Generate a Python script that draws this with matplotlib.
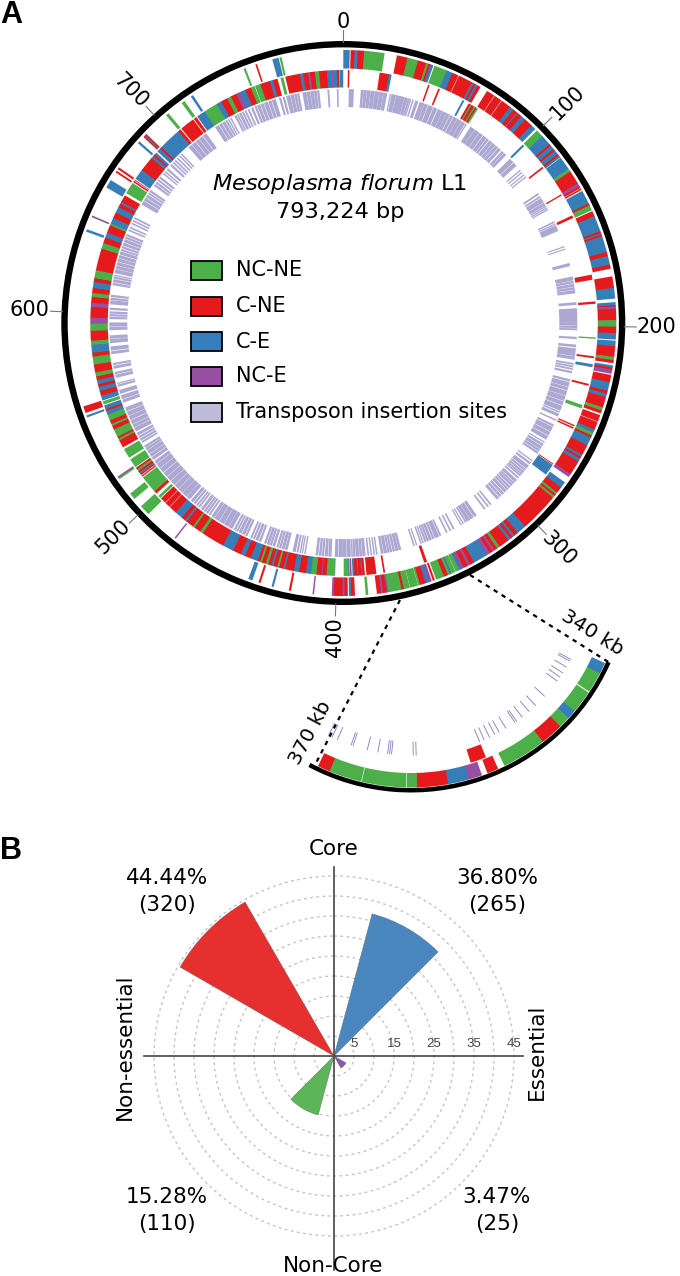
import numpy as np
import matplotlib
matplotlib.use("Agg")
import matplotlib.pyplot as plt
from matplotlib.patches import Rectangle

G, R, B, P = "#4DAF4A", "#E41A1C", "#377EB8", "#984EA3"
LAV = "#ADA8D2"
GENOME_KB = 793.224

# outer gene track (kb start, kb end, class)
TRACK1 = [
 (0,3,B),(3.4,5.3,R),(5.3,6.7,B),(6.7,9.7,R),(9.7,19.2,G),
 (25,30,R),(30,35,G),(35,39,R),(39,40,G),(40,41,R),(41,42.5,B),(43,49,G),(49,52,B),
 (52,55,R),(55.2,62,R),(62,63,B),(63,64,R),(64,65,B),(65,66.5,R),
 (70,74,R),(74.2,78,R),(78.2,83,R),(83,85,B),(85,87,R),(87,87.5,B),(87.5,89.8,R),(89.8,92,B),(92,96,R),(96,98.5,B),
 (99.5,103,G),(103,108,B),(108,109,R),(109,111,B),(111,112,R),(112,114,B),(114,115,R),(115,116,B),(116.2,122.5,B),(122.5,124,G),
 (124,130.5,R),(130.5,132,P),(132,133,R),(133.2,134,R),(134.5,141,B),(141,142,R),(142,144.5,G),(145,147.5,R),
 (147.5,155,B),(155,156,R),(156,156.6,B),(156.6,157.5,R),(157.5,165,B),(165,167,R),(167,171,B),(171,173,R),
 (176.6,182,R),(182,187,B),(188.6,190,B),(190,190.6,R),(190.6,191.7,P),(191.7,197,R),
 (197,200,G),(200,203,R),(203,206,B),(206.5,209,B),(209,214,R),(214,215.5,G),(215.5,217,R),
 (218,219,B),(219,220,R),(220,222,P),(222.5,226,R),(226,230,B),(230,231.5,R),(231.5,233,B),(233,238,R),(238,239.5,G),(239.5,241,R),
 (241.8,245,R),(245.2,249,R),(249,250.5,B),(250.5,252,G),(252,253,R),(253,257,B),(257,262,R),(262,263,B),(263,264,R),
 (264,265.5,B),(265.5,267,R),(267,272.4,R),(272.4,274,P),
 (277,280,B),(280,283,R),(283,284,G),(284,285,R),(285,286,G),(286,287,R),(287,303.4,R),
 (303.4,304.5,R),(304.5,309,B),(309,311,R),(311,312,B),(312,313.3,R),(313.3,314.5,B),(314.5,319.6,R),(319.6,321,G),
 (321,322.5,R),(322.5,323.5,P),(323.5,325,R),(325,326.6,P),(326.6,333.5,B),(333.5,335.5,R),(335.5,336.8,P),(336.8,338.8,R),(338.8,340.2,P),
 (340.2,341.2,B),(341.2,343,G),(343.1,345.1,G),(345.1,345.9,B),(345.9,346.9,G),(346.9,348.9,R),(348.9,352.8,G),
 (353.4,354.4,R),(354.9,356.1,P),(356.1,357.9,B),(357.9,360.6,R),(360.6,361.5,G),(361.55,365.4,G),(365.45,368.3,G),
 (368.3,369.4,R),(369.4,375.6,G),(375.6,376.4,P),(376.4,378,R),(378,379,P),(379,381,R),
 (385,386.2,G),(391.2,393,R),(393,394,B),(394.5,396,R),(396,397,P),(397,401,R),(401,402,P),
 (410.2,410.9,P),(421,422,R),(429.2,430.2,B),(435.5,436.5,R),(439.5,441.5,B),(480,480.7,P),
 (497,502,G),(506.5,509.7,G),(518,518.8,G),(518.8,519.5,P),(550.3,551.3,B),(552.5,555.7,R),
 (638,639.2,B),(645.2,646,P),(660.5,664.5,B),(668.7,669.6,R),(670.5,671.5,R),(685.7,686.8,B),
 (689.5,690.2,R),(690.2,690.8,B),(690.8,691.5,R),(704,705.5,G),(713.2,714.8,G),(718.4,719.6,B),
 (746,747,G),(751.8,752.6,R),(760,763,B),(763.4,764.4,G),
]

# inner gene track (kb start, kb end, class)
TRACK2 = [
 (2.3,3.1,R),(18.2,23,R),(23,24.3,B),(43.2,44,R),(48.6,49.5,R),(62,63,B),
 (65.5,66.5,R),(66.5,67.2,G),(67.2,68.5,R),(68.5,69.2,G),(69.2,70,R),(70,70.9,G),
 (99.5,100.6,B),(114.3,115.2,R),(130.9,131.6,R),(142.8,144.2,R),(174,176.6,R),(187.5,188.7,R),
 (205.5,206.2,G),(215,216,R),(219,220.5,B),(229,230,R),(240,241.8,G),(250.8,251.5,R),(252,252.8,R),
 (272.8,273.3,R),(273.5,279.4,B),(354,355.5,R),(375.6,376.5,R),(380,385,R),
 (385.8,387,R),(387,387.5,B),(387.5,389,R),(389,389.5,P),(389.5,391,R),(391,392,B),(392.4,393.2,P),(393.4,394,B),(394,396.4,G),
 (400.7,405,G),(405,407,R),(407,407.5,P),(407.5,410.1,R),(410.1,412.8,G),(412.8,415.4,B),(415.4,418.9,R),(418.9,421.5,B),(421.5,424,R),
 (424,426,R),(426,426.8,B),(426.8,429,R),(429,430,G),(430,432,R),(432,433,B),(433,434.7,R),(434.7,436,G),(436,438,R),(438,439,G),(439,440.3,R),
 (440.3,444,B),(444,447,R),(447,449.3,B),(449.3,453.6,R),(453.6,459.2,B),(459.2,471,R),(471,472.5,G),(472.5,476,R),(476,477,G),(477,479,R),
 (479,481,R),(481,482,B),(482,484,R),(484,488,B),(488,492,R),(492.2,495,R),(495.2,498.2,R),(498.6,500,G),
 (501.5,503,R),(503,512,G),(512.5,513.2,R),(513.5,514.2,R),(514.2,515,B),(515,516,R),(516,517,G),(517,518,R),
 (518.4,523,G),(524,529,G),(530,534,R),(534,535,G),(535,536,R),(536,540,G),(540,542,R),(542,543,G),(543,545,R),(545,548,G),
 (548,550,B),(550,551,R),(551,553,B),(553.5,555.2,G),(555.6,556.5,B),(556.5,558,B),(558,560.5,R),(560.5,562.5,B),(562.5,564,R),(564,566,B),(566,568,R),
 (568,570,G),(570,574,R),(574,578,G),(578,580,R),(580,584,B),(584,586,G),(586,588,R),(588,591,R),(591,594.5,G),(594.5,597.5,P),
 (597.5,603,R),(603,605,P),(605,608,R),(608,610,G),(610,612.5,R),(612.5,615.5,B),(615.5,617.5,R),(617.5,621.5,G),(621.5,632.6,R),
 (632.6,635.5,G),(635.5,638.5,R),(638.5,641,B),(641,645,R),(645,646,G),(646,649,B),(649,652,R),(652,655,B),(655,657,R),(657,658,B),(658,661.7,R),
 (663,669,G),(669.5,670.3,R),(670.6,671,R),(671.5,676.9,B),(676.9,684.6,R),(684.6,686,B),(686,687,R),(687,688.2,B),
 (689,691,B),(691,692,R),(692,703.5,B),(703.5,705,R),(705.5,713,R),(713.4,715,R),(715.5,720,B),(720,727,G),
 (727,729.5,B),(729.5,733,R),(733,735,G),(735,738,R),(738,740,P),(740,743,B),(743,746,R),(746,748,G),(748.2,751,G),(751,752,R),(752,756,R),
 (756,757.5,B),(757.5,760,R),(761.5,763,G),(764,771.5,R),(771.5,773,B),(773,775.5,R),(775.5,776.5,P),(776.5,779,R),(779,781,G),(781,785,R),
 (785,787,B),(787,788,P),(788,790,B),(790,791.3,R),(791.5,793.2,B),
]

# transposon insertion blocks on the main ring (kb)
SITES = [
 (3,5.5),(9.5,10.6),(10.9,12.5),(12.8,14.5),(14.8,16.8),(17.1,19.3),(19.6,21.5),(21.8,23.7),
 (25.3,25.8),(26.3,28.5),(28.8,31),(31.2,33.2),(33.5,35),(35.3,36.2),(36.5,37),(37.8,38.4),(39.5,41),
 (42,44.5),(44.8,46.5),(47,49.5),(50,52),(52.6,55),(55.3,57.5),(57.8,59.5),(60,61.5),(62,64),(64.3,66.5),(66.8,69),(69.5,70),
 (72.6,75),(75.3,78),(78.4,80.5),(81,83),(83.4,84.6),(85.2,87),(87.4,89),(89.4,91),(91.5,93),(94,95.2),(95.6,97),
 (100,102.5),(103,105),(108,108.5),(109.5,110),(111.2,111.7),(112.7,113.2),
 (124,124.8),(125.8,126.6),(127.2,129.6),(130,131.6),(132,132.5),(133,133.5),(134,134.5),
 (141.5,142.2),(142.8,143.3),(143.8,147),(156,156.4),(157.4,157.8),(165.5,167),
 (173,175),(175.4,176.5),(177,178.4),(178.8,180),(180.4,182),(187,188.3),
 (190.3,198),(198.3,199.5),(199.9,200.8),(201.2,202),(205.8,206.8),(210,211.2),(212,216),(216.4,218),
 (220,220.8),(221.4,222.2),(222.8,223.6),(224.5,225.5),
 (229,230),(230.6,233),(233.4,235),(235.5,238),(238.4,241),(241.5,243.5),(244,246.6),(247.2,247.8),(248.5,250),
 (252,252.6),(255,256),(256.5,259),(259.5,261.5),(262,264),(265.5,266),(266.8,268),(268.5,270),(270.4,271.5),(272,273),
 (277.5,278),(279,280),(281,283),(283.5,284.5),(285,286),(286.4,287.2),(287.6,288.4),(289.2,290),
 (291,292.5),(293,293.8),(294.2,295.4),(296,297),(297.5,298.5),(299,300.4),(301,302.2),(302.8,304),(304.6,306),
 (310,310.7),(311.8,312.5),(314,314.7),(320,321.5),(322,324),(324.3,326),(326.4,327.2),(328.2,328.7),(329.5,330),
 (334,334.7),(336,336.7),(338.2,338.9),(342,342.8),(343.3,345.5),(346,347),(347.5,348.8),(349.2,350.2),(350.6,351.5),(352.2,352.8),(353.4,354),
 (356,356.5),(357.4,358),(365,366.2),(366.5,368),(368.4,369.5),(370,371),(371.4,372.4),(372.8,374.4),(374.8,376),
 (378,378.6),(379.4,380),(381,381.6),(382.6,383.3),(384.5,386),(386.4,387.6),(388,389.6),(390,391),(391.4,392),
 (392.5,394.5),(394.9,397),(397.3,399),(399.5,401),(403,404.5),(405,406.4),(407,408),(408.5,409.6),(410.2,411.4),
 (417,417.6),(418.5,419),(419.6,420.2),(421,421.8),(422.5,424),(427,428.2),(428.6,430),(430.5,431.5),(432,433),
 (434,435.2),(435.8,436.8),(437.2,438.5),(439,440),(442,443),(443.6,445),(445.6,446.5),(447.2,448),
 (450,451),(451.5,453),(453.5,455),(455.6,456.4),(457,458),(459,461),(461.3,464),(464.4,467),(467.4,470),(470.4,472),
 (473,473.8),(474.5,475.5),(476,477),(477.6,479),(480,480.8),(481.4,482.2),(483,484),(484.6,486),
 (487,489),(489.3,492),(492.3,495),(495.4,498),(498.4,501),(501.4,504),(504.4,507),(507.5,510),(510.4,513),(513.4,515),
 (516,517.5),(518,519.6),(520,522),(522.4,523.6),(524,525),(527,527.8),(528.4,529.4),(530,531),(531.6,533),
 (534,536),(536.4,538),(538.4,540.5),(541,543),(543.4,545.5),(546,548),(551,552.5),(553,555),(556,558),(560,561),(561.5,562),
 (565,566.5),(567,568),(570,571.4),(572,573),(578,579.4),(580,582),(584,586),(586.4,588),(591,592.6),(593,595),(597,598),(598.5,599.5),(600,601),
 (602,603),(605,607),(607.4,608.4),(609,610),(615.4,616.5),(617,618.5),(619,620),(620.5,621),(622,624),(624.4,626),(626.4,628),(628.5,630),(630.4,632),(632.5,634),(634.5,635.4),
 (636,637),(637.6,639),(639.5,641),(641.5,642.5),(643,644),(646,646.7),(647.6,648.3),(650,650.7),(651.6,652.3),(653.2,654),
 (662,664),(664.5,666),(666.5,668),(668.6,669.4),(670,671),(674,675),(675.6,676.6),(677.4,678.2),(679,680),
 (682,682.6),(683.4,684),(685,686),(688,689),(690,690.7),(691.5,692.2),(693.2,693.9),(695,695.6),(696.4,697),
 (702,704),(704.4,706.5),(707,709),(709.4,711.5),(712,714),(720,722),(722.5,724),(724.5,726),(726.5,727.4),(728,728.6),(729.4,730),
 (732,733),(733.5,734.2),(734.8,736),(736.6,737.5),(738.2,739),(740,740.8),(742,743),
 (744,745),(745.5,747),(747.5,749),(749.5,751.5),(752,753.5),(754,756),(758,759),(760,761),
 (762,764),(764.4,766),(766.4,767.6),(768,769),(771,773),(773.3,775),(775.3,777),(777.3,778.6),(779,780),(784.6,785.4),(789.7,790.4),
]

# individual insertion sites in the magnified 340-370 kb view
INSET_SITES = [341.3,341.5,342.2,342.9,343.4,343.9,345.9,347.2,348.1,349.0,349.7,349.9,351.0,351.8,352.3,
               352.9,353.5,354.0,360.6,360.9,363.1,363.3,363.5,364.5,365.6,367.1,367.3,368.8,369.4,369.8]

MAIN_TICKS = [0,100,200,300,400,500,600,700]
ZOOM_RANGE = [340,370]

CLASS_NAMES = ["NC-NE","C-NE","C-E","NC-E","Transposon insertion sites"]
CLASS_COLORS = [G,R,B,P,"#BEBADA"]

PIE_THETA_DEG = [15,300,195,120]
PIE_PCT = [36.80,44.44,15.28,3.47]
PIE_N = [265,320,110,25]
PIE_COL = ["#4A87BF","#E6302F","#5DB55A","#8E55A5"]
RING_LABELS = [5,15,25,35,45]
RING_GRID = [5,10,15,20,25,30,35,40,45]

W, H = 680, 1276
plt.rcParams["font.family"] = ["DejaVu Sans"]
fig = plt.figure(figsize=(W/100, H/100), dpi=100, facecolor="white")

def polar_axes(cx, cy, rpx, zorder):
    a = fig.add_axes([(cx-rpx)/W, 1-(cy+rpx)/H, 2*rpx/W, 2*rpx/H], projection="polar", zorder=zorder)
    a.set_theta_zero_location("N"); a.set_theta_direction(-1)
    a.set_rlim(0, rpx); a.patch.set_alpha(0)
    a.grid(False); a.set_xticks([]); a.set_yticks([])
    a.spines["polar"].set_visible(False)
    return a

def draw(a, to_theta, segs, r0, r1, seal=0.3):
    # neighbouring genes overlap a little, so that no pale seam shows between them
    for i, (s, e, c) in enumerate(segs):
        touching = i+1 < len(segs) and segs[i+1][0] <= e+0.01
        t0, t1 = to_theta(s), to_theta(e+seal if touching else e)
        a.bar((t0+t1)/2, r1-r0, width=t1-t0, bottom=r0, color=c, linewidth=0, align="center")

# main ring -------------------------------------------------------------
CX, CY = 343.3, 323.0
ax = polar_axes(CX, CY, 300, 2)
main_theta = lambda kb: np.radians(kb/GENOME_KB*360)
draw(ax, main_theta, TRACK1, 254.5, 273)
draw(ax, main_theta, TRACK2, 235.5, 253)
draw(ax, main_theta, [(s,e+0.25,LAV) for s,e in SITES], 216, 234)
ax.bar(np.pi, 6.4, width=2*np.pi, bottom=275.6, color="black", linewidth=0)
for t in MAIN_TICKS:
    th = main_theta(t)
    ax.plot([th,th],[281,293], color="#777777", lw=0.8)

# magnified view --------------------------------------------------------
ax2 = polar_axes(411, 574, 221, 3)
zoom_theta = lambda kb: np.radians(114.05+(kb-ZOOM_RANGE[0])*3.122)
in_zoom = lambda s: s[0] >= ZOOM_RANGE[0] and s[1] <= ZOOM_RANGE[1]+0.3
draw(ax2, zoom_theta, [x for x in TRACK1 if in_zoom(x)], 199, 213.5, seal=0.05)
draw(ax2, zoom_theta, [x for x in TRACK2 if in_zoom(x)], 184, 198)
for k in INSET_SITES:
    th = zoom_theta(k)
    ax2.plot([th,th],[168,181], color="#7F7BBB", lw=0.6)
draw(ax2, zoom_theta, [(ZOOM_RANGE[0], ZOOM_RANGE[1]+0.1, "black")], 214, 218.5)

# polar bar chart -------------------------------------------------------
PX, PY = 334.0, 1056.0
ax3 = polar_axes(PX, PY, 190, 2)
ax3.set_rlim(0, 47.5)
th = np.linspace(0, 2*np.pi, 361)
for r in RING_GRID:
    ax3.plot(th, np.full_like(th, r), color="#C4C4C4", lw=1.0, ls=(0,(2,2.5)), zorder=1)
for t, v, c in zip(PIE_THETA_DEG, PIE_PCT, PIE_COL):
    ax3.bar(np.radians(t+15), v, width=np.radians(30), bottom=0, color=c, edgecolor="#666666", linewidth=0.3, zorder=3)
for r in RING_LABELS:
    ax3.annotate(str(r), (np.pi/2, r), xytext=(0,8.6), textcoords="offset points", ha="center", va="center",
                 fontsize=9.5, color="#444444", family="Liberation Sans", zorder=4)

# overlay: annotation in pixel coordinates ------------------------------
ov = fig.add_axes([0,0,1,1], zorder=5)
ov.set_xlim(0,W); ov.set_ylim(H,0); ov.axis("off"); ov.patch.set_alpha(0)

ov.text(0, 15, "A", fontsize=22, fontweight="bold", family="Liberation Sans", ha="left", va="center")
ov.text(0, 851, "B", fontsize=22, fontweight="bold", family="Liberation Sans", ha="left", va="center")

TICK_POS = [(343,22,0),(567,103,45),(656,327,0),(559,549,-45),(335,637,90),(113,537,45),(29,310,0),(131,91,-45)]
for t,(x,y,rot) in zip(MAIN_TICKS,TICK_POS):
    ov.text(x,y,str(t),fontsize=15,rotation=rot,ha="center",va="center",rotation_mode="anchor")

ov.text(340,184,r"$\mathit{Mesoplasma\ florum}$ L1",fontsize=16.2,ha="center",va="center",
        math_fontfamily="dejavusans")
ov.text(340,212,"793,224 bp",fontsize=16.2,ha="center",va="center")

LEG_Y = [261,297,332,367,403]
for y,n,c in zip(LEG_Y,CLASS_NAMES,CLASS_COLORS):
    ov.add_patch(Rectangle((191,y),31,19,facecolor=c,edgecolor="black",lw=1.3))
    ov.text(236,y+9.5,n,fontsize=15,ha="left",va="center")

ov.plot([470,610],[575,663],color="black",lw=1.6,ls=(0,(2,2.2)))
ov.plot([400,315],[600,765],color="black",lw=1.6,ls=(0,(2,2.2)))
ov.text(592,633,"340 kb",fontsize=14.5,rotation=-32,ha="center",va="center",rotation_mode="anchor")
ov.text(310,733,"370 kb",fontsize=14.5,rotation=62,ha="center",va="center",rotation_mode="anchor")

ov.plot([PX,PX],[867,1270],color="#444444",lw=1.2)
ov.plot([144,523],[PY,PY],color="#444444",lw=1.2)
ov.text(334,849,"Core",fontsize=15.5,ha="center",va="center")
ov.text(333,1266,"Non-Core",fontsize=15.5,ha="center",va="center")
ov.text(125,1047,"Non-essential",fontsize=15.5,rotation=90,ha="center",va="center")
ov.text(537,1052,"Essential",fontsize=15.5,rotation=90,ha="center",va="center")
PCT_POS = [(497,878),(167,878),(167,1197),(497,1197)]
for (x,y),v,n in zip(PCT_POS,PIE_PCT,PIE_N):
    ov.text(x,y,f"{v:.2f}%",fontsize=15.5,ha="center",va="center")
    ov.text(x,y+27,f"({n})",fontsize=15.5,ha="center",va="center")

fig.savefig("out.png", dpi=100)
